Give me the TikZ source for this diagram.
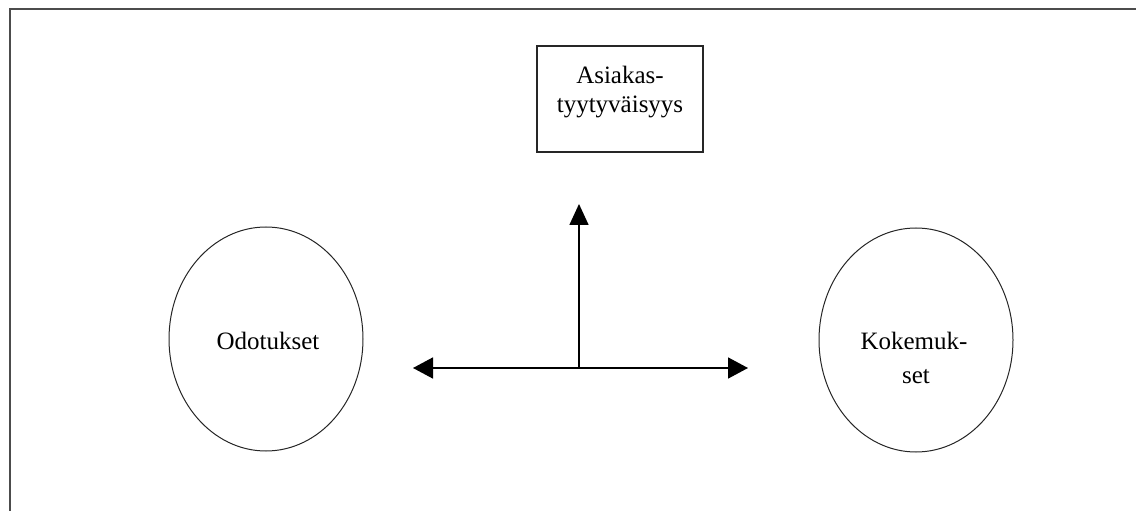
\documentclass[tikz,border=0pt]{standalone}
\usepackage{fontspec}
\setmainfont{Liberation Serif}
\usetikzlibrary{shapes.geometric,arrows.meta}
\tikzset{
  frameline/.style={draw=black!70, line width=2.2bp},
  thinshape/.style={draw=black!85, line width=1bp, inner sep=0pt},
  oval/.style={thinshape, ellipse, minimum width=194bp, minimum height=224bp},
  boxshape/.style={draw=black!85, line width=1.6bp, inner sep=0pt, minimum width=166bp, minimum height=106bp},
  lbl/.style={anchor=base, inner sep=0pt, font=\fontsize{25bp}{30bp}\selectfont},
  arr/.style={line width=1.6bp, -{Triangle[length=21bp,width=19bp]}},
  darr/.style={line width=1.6bp, {Triangle[length=20bp,width=21bp]}-{Triangle[length=20bp,width=21bp]}}
}
\begin{document}
\begin{tikzpicture}[x=1bp,y=-1bp]
\useasboundingbox (0,0) rectangle (1136,511);
\coordinate (ftr) at (1136,9);
\coordinate (ftl) at (10,9);
\coordinate (fbl) at (10,511);
\draw[frameline] (ftr) -- (ftl) -- (fbl);

\node[boxshape] (box) at (620,99) {};
\node[lbl] (t1) at (620,84) {Asiakas-};
\node[lbl] (t2) at (620,113) {tyytyväisyys};

\node[oval] (odo) at (266,339) {};
\node[lbl] (odot) at (268,350) {Odotukset};

\node[oval] (kok) at (916,340) {};
\node[lbl] (kok1) at (914,350) {Kokemuk-};
\node[lbl] (kok2) at (916,384) {set};

\coordinate (jn) at (579,368);
\coordinate (up) at (579,204);
\coordinate (lt) at (413,368);
\coordinate (rt) at (748,368);
\draw[arr] (jn) -- (up);
\draw[darr] (lt) -- (rt);
\end{tikzpicture}
\end{document}
